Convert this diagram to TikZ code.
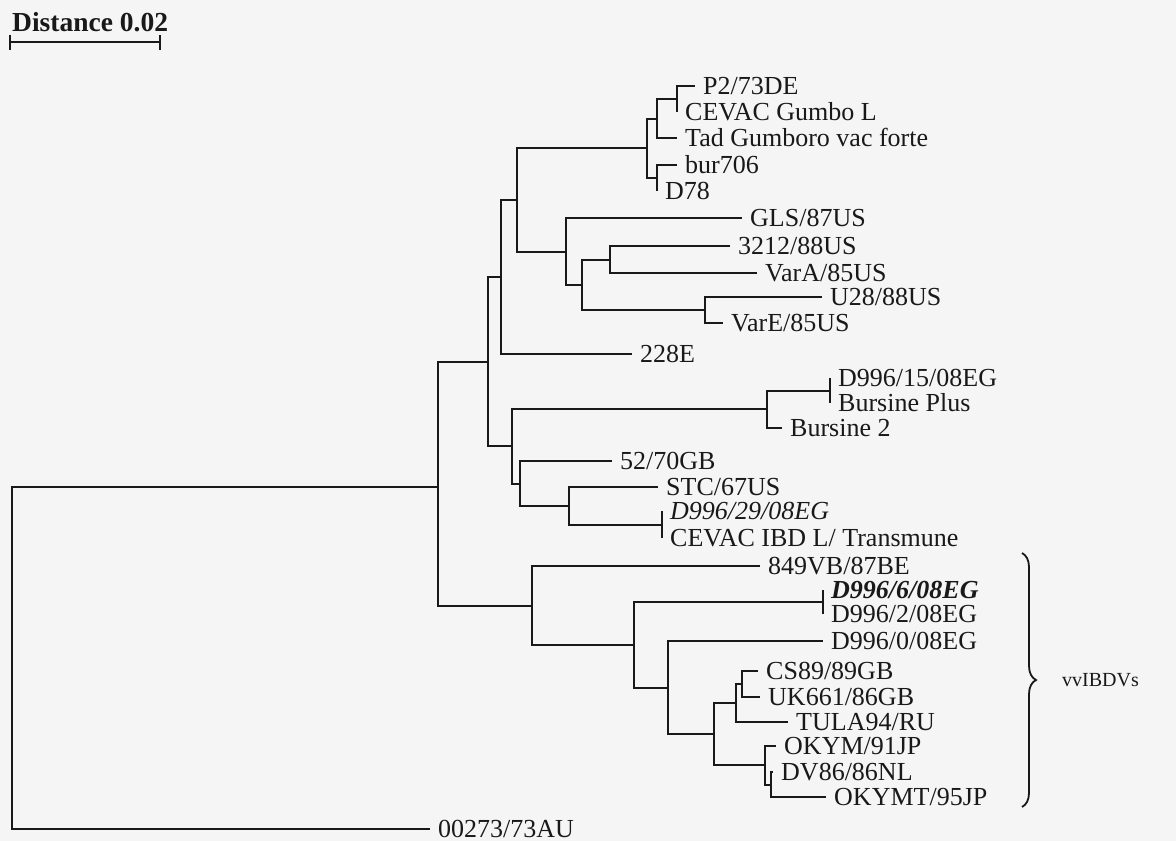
\documentclass[tikz,border=0pt]{standalone}
\usepackage{fontspec}
\setmainfont{Liberation Serif}
\usetikzlibrary{decorations.pathreplacing}
\definecolor{paper}{RGB}{245,245,245}
\definecolor{ink}{RGB}{25,25,25}
\begin{document}
\begin{tikzpicture}[x=1pt,y=-1pt,
  br/.style={draw=ink,line width=1.8pt,line join=miter},
  leaf/.style={anchor=west,inner xsep=8pt,inner ysep=0pt,text height=17pt,text depth=0pt,
    font=\fontsize{26}{28}\selectfont,text=ink},
]
\fill[paper] (0,0) rectangle (1176,841);
\useasboundingbox (0,0) rectangle (1176,841);

% scale bar
\node[anchor=base west,inner sep=0pt,font=\fontsize{27.5}{29}\bfseries,text=ink] (title) at (12,31) {Distance 0.02};
\coordinate (sbL) at (10,42);
\coordinate (sbR) at (160,42);
\draw[br] (sbL) -- (sbR);
\draw[br] ([yshift=7pt]sbL) -- ([yshift=-8pt]sbL);
\draw[br] ([yshift=7pt]sbR) -- ([yshift=-8pt]sbR);

% internal nodes
\coordinate (r0) at (12,656);
\coordinate (A) at (438,487);
\coordinate (B) at (488,362);
\coordinate (C) at (501,277);
\coordinate (D) at (517,200);
\coordinate (P) at (647,148);
\coordinate (Q) at (657,119);
\coordinate (R) at (677,99);
\coordinate (S) at (657,178);
\coordinate (T) at (566,252);
\coordinate (U) at (582,285);
\coordinate (V) at (610,260);
\coordinate (W) at (705,310);
\coordinate (E) at (512,446);
\coordinate (X) at (767,409);
\coordinate (Xt) at (830,391);
\coordinate (F) at (520,484);
\coordinate (G) at (569,506);
\coordinate (Gt) at (662,525);
\coordinate (H) at (532,606);
\coordinate (I) at (634,645);
\coordinate (It) at (823,602);
\coordinate (J) at (668,688);
\coordinate (K) at (714,734);
\coordinate (L) at (736,703);
\coordinate (M) at (742,684);
\coordinate (N) at (765,765);
\coordinate (O) at (771,785);

% leaves
\node[leaf] (l1) at (695,86) {P2/73DE};
\node[leaf] (l2) at (677,112) {CEVAC Gumbo L};
\node[leaf] (l3) at (677,138) {Tad Gumboro vac forte};
\node[leaf] (l4) at (677,165) {bur706};
\node[leaf] (l5) at (657,191) {D78};
\node[leaf] (l6) at (742,218) {GLS/87US};
\node[leaf] (l7) at (730,246) {3212/88US};
\node[leaf] (l8) at (757,273) {VarA/85US};
\node[leaf] (l9) at (822,297) {U28/88US};
\node[leaf] (l10) at (723,323) {VarE/85US};
\node[leaf] (l11) at (632,354) {228E};
\node[leaf] (l12) at (830,378) {D996/15/08EG};
\node[leaf] (l13) at (830,403) {Bursine Plus};
\node[leaf] (l14) at (782,428) {Bursine 2};
\node[leaf] (l15) at (612,461) {52/70GB};
\node[leaf] (l16) at (658,487) {STC/67US};
\node[leaf] (l17) at (662,511) {\itshape D996/29/08EG};
\node[leaf] (l18) at (662,538) {CEVAC IBD L/ Transmune};
\node[leaf] (l19) at (760,566) {849VB/87BE};
\node[leaf] (l20) at (823,590) {\bfseries\itshape D996/6/08EG};
\node[leaf] (l21) at (823,614) {D996/2/08EG};
\node[leaf] (l22) at (823,641) {D996/0/08EG};
\node[leaf] (l23) at (758,671) {CS89/89GB};
\node[leaf] (l24) at (760,697) {UK661/86GB};
\node[leaf] (l25) at (788,722) {TULA94/RU};
\node[leaf] (l26) at (776,746) {OKYM/91JP};
\node[leaf] (l27) at (773,772) {DV86/86NL};
\node[leaf] (l28) at (826,797) {OKYMT/95JP};
\node[leaf] (l29) at (430,829) {00273/73AU};

% branches
\draw[br] (r0) |- (A);
\draw[br] (r0) |- (l29.west);
\draw[br] (A) |- (B);
\draw[br] (A) |- (H);
\draw[br] (B) |- (C);
\draw[br] (B) |- (E);
\draw[br] (C) |- (D);
\draw[br] (C) |- (l11.west);
\draw[br] (D) |- (P);
\draw[br] (D) |- (T);
\draw[br] (P) |- (Q);
\draw[br] (P) |- (S);
\draw[br] (Q) |- (R);
\draw[br] (Q) |- (l3.west);
\draw[br] (R) |- (l1.west);
\draw[br] (R) |- (l2.west);
\draw[br] (S) |- (l4.west);
\draw[br] (S) |- (l5.west);
\draw[br] (T) |- (l6.west);
\draw[br] (T) |- (U);
\draw[br] (U) |- (V);
\draw[br] (U) |- (W);
\draw[br] (V) |- (l7.west);
\draw[br] (V) |- (l8.west);
\draw[br] (W) |- (l9.west);
\draw[br] (W) |- (l10.west);
\draw[br] (E) |- (X);
\draw[br] (E) |- (F);
\draw[br] (X) |- (Xt);
\draw[br] (X) |- (l14.west);
\draw[br] (Xt) |- (l12.west);
\draw[br] (Xt) |- (l13.west);
\draw[br] (F) |- (l15.west);
\draw[br] (F) |- (G);
\draw[br] (G) |- (l16.west);
\draw[br] (G) |- (Gt);
\draw[br] (Gt) |- (l17.west);
\draw[br] (Gt) |- (l18.west);
\draw[br] (H) |- (l19.west);
\draw[br] (H) |- (I);
\draw[br] (I) |- (It);
\draw[br] (I) |- (J);
\draw[br] (It) |- (l20.west);
\draw[br] (It) |- (l21.west);
\draw[br] (J) |- (l22.west);
\draw[br] (J) |- (K);
\draw[br] (K) |- (L);
\draw[br] (K) |- (N);
\draw[br] (L) |- (M);
\draw[br] (L) |- (l25.west);
\draw[br] (M) |- (l23.west);
\draw[br] (M) |- (l24.west);
\draw[br] (N) |- (l26.west);
\draw[br] (N) |- (O);
\draw[br] (O) |- (l27.west);
\draw[br] (O) |- (l28.west);

% bracket
\coordinate (bt) at (1022,553);
\coordinate (bb) at (1022,807);
\draw[br,decorate,decoration={brace,amplitude=14pt}] (bt) -- (bb);
\node[anchor=west,inner sep=0pt,font=\fontsize{20}{22}\selectfont,text=ink] (vv) at (1062,680) {vvIBDVs};
\end{tikzpicture}
\end{document}
